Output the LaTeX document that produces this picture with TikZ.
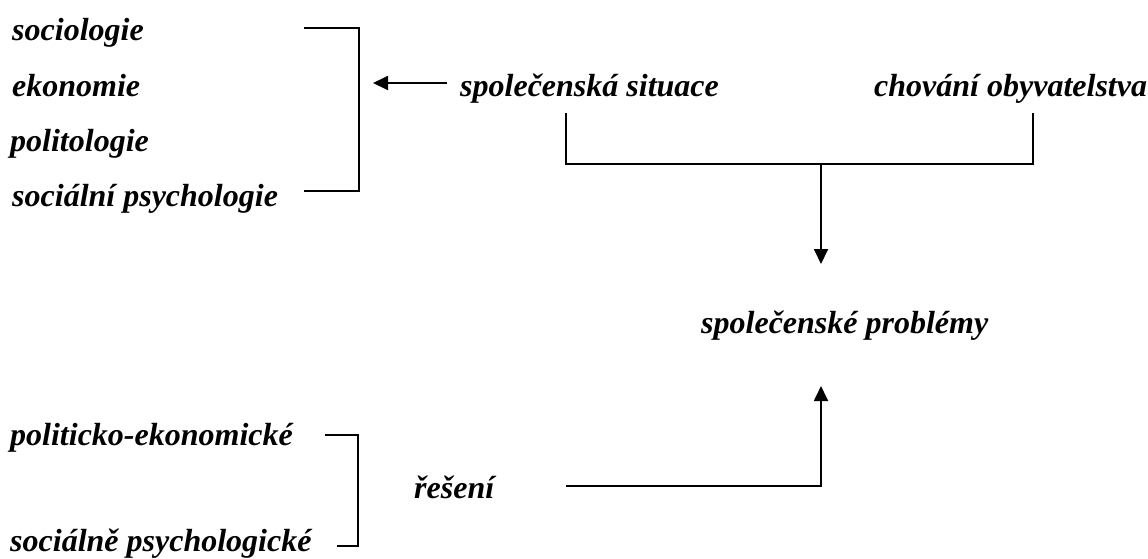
\documentclass[tikz,border=0pt]{standalone}
\usepackage{fontspec}
\setmainfont{Liberation Serif}
\usetikzlibrary{arrows.meta, positioning}
\tikzset{
  label/.style={font=\fontsize{32}{36}\selectfont\bfseries\itshape, inner sep=0pt, anchor=base west},
  line/.style={line width=1.8pt},
  arrowline/.style={line width=1.8pt, -{Triangle[length=15pt, width=14pt]}}
}
\begin{document}
\begin{tikzpicture}[x=1pt, y=-1pt]
\useasboundingbox (0,0) rectangle (1148,558);
% disciplines (top left)
\node[label] (soc) at (12,40) {sociologie};
\node[label] (eko) at (12,96) {ekonomie};
\node[label] (pol) at (10,151) {politologie};
\node[label] (psy) at (12,206) {sociální psychologie};
% bracket round them
\coordinate (b1t) at (304,28);
\coordinate (b1tr) at (359,28);
\coordinate (b1br) at (359,191);
\coordinate (b1b) at (304,191);
\draw[line] (b1t) -- (b1tr) -- (b1br) -- (b1b);
% social situation and behaviour
\node[label] (sit) at (460,96) {společenská situace};
\node[label] (cho) at (874,96) {chování obyvatelstva};
\coordinate (tail1) at (447,83);
\coordinate (tip1) at (373,83);
\draw[arrowline] (tail1) -- (tip1);
% joining bracket down to the problems
\coordinate (j1) at (566,113);
\coordinate (j2) at (566,164);
\coordinate (j3) at (1033,164);
\coordinate (j4) at (1033,113);
\coordinate (jm) at (821,164);
\coordinate (tip2) at (821,264);
\draw[line] (j1) -- (j2) -- (j3) -- (j4);
\draw[arrowline] (jm) -- (tip2);
\node[label] (prob) at (701,333) {společenské problémy};
% solutions (bottom)
\node[label] (pe) at (10,445) {politicko-ekonomické};
\node[label] (sp) at (10,551) {sociálně psychologické};
\coordinate (b2t) at (325,435);
\coordinate (b2tr) at (358,435);
\coordinate (b2br) at (358,546);
\coordinate (b2b) at (337,546);
\draw[line] (b2t) -- (b2tr) -- (b2br) -- (b2b);
\node[label] (res) at (414,498) {řešení};
\coordinate (r1) at (566,486);
\coordinate (r2) at (821,486);
\coordinate (tip3) at (821,386);
\draw[arrowline] (r1) -- (r2) -- (tip3);
\end{tikzpicture}
\end{document}
